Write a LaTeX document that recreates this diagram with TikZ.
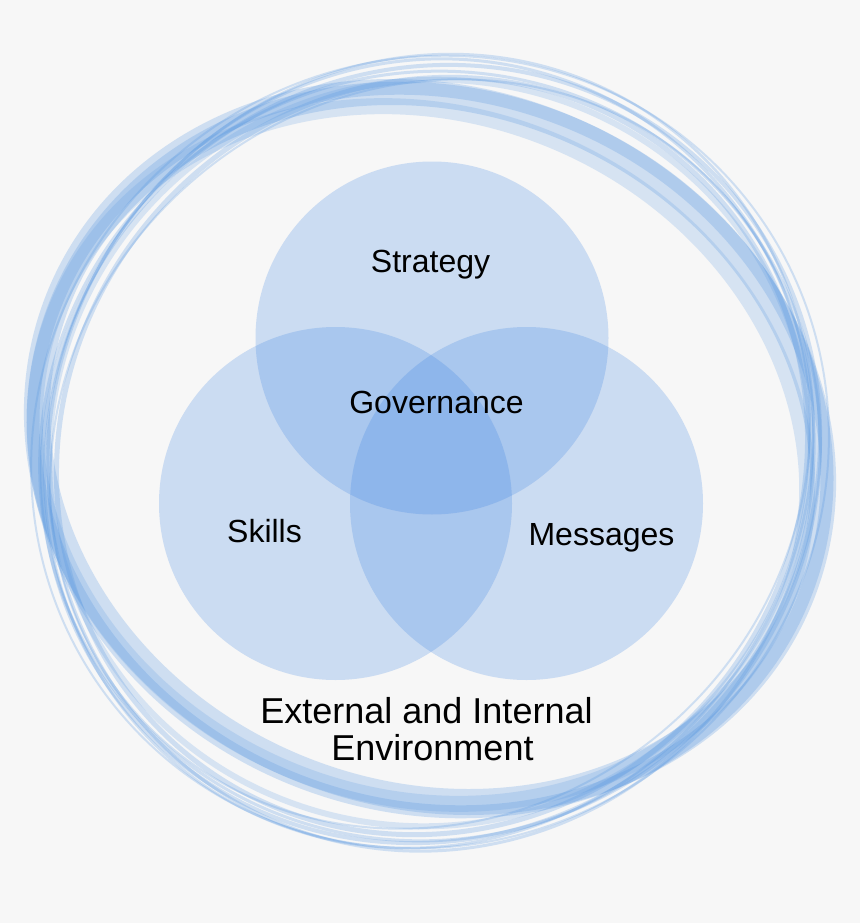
\documentclass[tikz,border=0pt]{standalone}
\usepackage{fontspec}
\setmainfont{Liberation Sans}
\definecolor{bgc}{HTML}{F7F7F7}
\definecolor{vennblue}{RGB}{50,125,225}
\definecolor{ringblue}{RGB}{85,150,225}
\tikzset{
  venn/.style={circle, minimum size=353pt, inner sep=0pt, fill=vennblue, fill opacity=0.22, draw=none},
  lbl/.style={anchor=base, inner sep=0pt, font=\fontsize{32}{38}\selectfont, text=black},
  envlbl/.style={anchor=base, inner sep=0pt, font=\fontsize{36}{36}\selectfont, text=black, align=center},
  ringline/.style={draw=ringblue, draw opacity=0.25},
}
\begin{document}
\begin{tikzpicture}[x=1pt,y=1pt]
\useasboundingbox (0,0) rectangle (860,-923);
\fill[bgc] (0,0) rectangle (860,-923);
% outer ring: broad bands
\draw[ringline, line width=26pt, rotate around={-22:(430,-447)}] (430,-447) ellipse [x radius=400pt, y radius=347pt];
\draw[ringline, line width=13pt, rotate around={-20:(430,-450)}] (430,-450) ellipse [x radius=402pt, y radius=356pt];
\draw[ringline, line width=16pt, draw opacity=0.2, rotate around={-22:(421,-455)}] (421,-455) ellipse [x radius=393pt, y radius=341pt];
% outer ring: thin strokes
\draw[ringline, line width=4pt, rotate around={45:(431,-454)}] (431,-454) ellipse [x radius=398pt, y radius=380pt];
\draw[ringline, line width=3pt, rotate around={30:(430,-456)}] (430,-456) ellipse [x radius=393pt, y radius=382pt];
\draw[ringline, line width=2.5pt, rotate around={60:(429,-451)}] (429,-451) ellipse [x radius=403pt, y radius=378pt];
\draw[ringline, line width=5pt, rotate around={50:(432,-456)}] (432,-456) ellipse [x radius=386pt, y radius=368pt];
\draw[ringline, line width=2pt, rotate around={40:(430,-452)}] (430,-452) ellipse [x radius=405pt, y radius=390pt];
\draw[ringline, line width=3pt, rotate around={70:(431,-455)}] (431,-455) ellipse [x radius=398pt, y radius=381pt];
\draw[ringline, line width=6pt, draw opacity=0.2, rotate around={20:(430,-453)}] (430,-453) ellipse [x radius=382pt, y radius=372pt];
\draw[ringline, line width=2pt, rotate around={40:(430,-454)}] (430,-454) ellipse [x radius=392pt, y radius=362pt];
% venn circles
\node[venn] (top) at (432,-338) {};
\node[venn] (left) at (335.5,-503.5) {};
\node[venn] (right) at (526.5,-503.5) {};
% labels
\node[lbl] (strategy) at (430.5,-272) {Strategy};
\node[lbl] (governance) at (436.5,-413) {Governance};
\node[lbl] (skills) at (264.5,-542) {Skills};
\node[lbl] (messages) at (601.5,-545) {Messages};
\node[envlbl] (env1) at (426.5,-723) {External and Internal};
\node[envlbl] (env2) at (432.5,-760) {Environment};
\end{tikzpicture}
\end{document}
